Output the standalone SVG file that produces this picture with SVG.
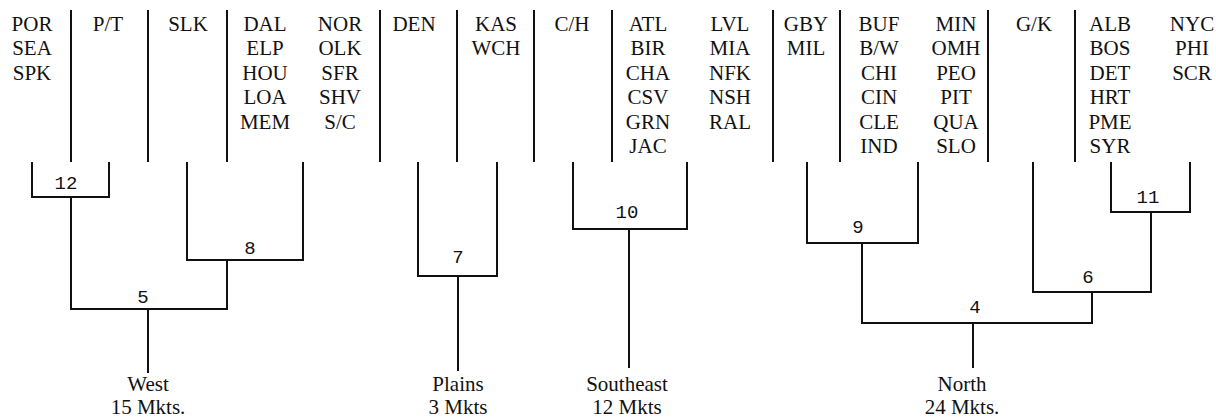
<svg xmlns="http://www.w3.org/2000/svg" width="1216" height="418" viewBox="0 0 1216 418">
<style>
.mk{font-family:'Liberation Serif','Times New Roman',serif;font-size:21px;fill:#111;text-anchor:middle}
.num{font-family:'Liberation Mono','Courier New',monospace;font-size:19px;fill:#111;text-anchor:middle}
.sep{stroke:#111;stroke-width:2;fill:none}
.ln{stroke:#111;stroke-width:2;fill:none;stroke-linecap:square}
</style>
<rect width="1216" height="418" fill="#fff"/>
<g id="separators" class="sep">
<line x1="71" y1="10" x2="71" y2="162"/>
<line x1="148" y1="10" x2="148" y2="162"/>
<line x1="227" y1="10" x2="227" y2="162"/>
<line x1="380" y1="10" x2="380" y2="162"/>
<line x1="457" y1="10" x2="457" y2="162"/>
<line x1="534" y1="10" x2="534" y2="162"/>
<line x1="612" y1="10" x2="612" y2="162"/>
<line x1="773" y1="10" x2="773" y2="162"/>
<line x1="840" y1="10" x2="840" y2="162"/>
<line x1="988" y1="10" x2="988" y2="162"/>
<line x1="1075" y1="10" x2="1075" y2="162"/>
</g>
<g id="col-west1" class="mk"><text x="32" y="30.5">POR</text><text x="32" y="55">SEA</text><text x="32" y="79.5">SPK</text></g>
<g id="col-pt" class="mk"><text x="108" y="30.5">P/T</text></g>
<g id="col-slk" class="mk"><text x="188" y="30.5">SLK</text></g>
<g id="col-dal" class="mk"><text x="265" y="30.5">DAL</text><text x="265" y="55">ELP</text><text x="265" y="79.5">HOU</text><text x="265" y="104">LOA</text><text x="265" y="128.5">MEM</text></g>
<g id="col-nor" class="mk"><text x="340" y="30.5">NOR</text><text x="340" y="55">OLK</text><text x="340" y="79.5">SFR</text><text x="340" y="104">SHV</text><text x="340" y="128.5">S/C</text></g>
<g id="col-den" class="mk"><text x="414" y="30.5">DEN</text></g>
<g id="col-kas" class="mk"><text x="496" y="30.5">KAS</text><text x="496" y="55">WCH</text></g>
<g id="col-ch" class="mk"><text x="572" y="30.5">C/H</text></g>
<g id="col-atl" class="mk"><text x="648" y="30.5">ATL</text><text x="648" y="55">BIR</text><text x="648" y="79.5">CHA</text><text x="648" y="104">CSV</text><text x="648" y="128.5">GRN</text><text x="648" y="153">JAC</text></g>
<g id="col-lvl" class="mk"><text x="730" y="30.5">LVL</text><text x="730" y="55">MIA</text><text x="730" y="79.5">NFK</text><text x="730" y="104">NSH</text><text x="730" y="128.5">RAL</text></g>
<g id="col-gby" class="mk"><text x="806" y="30.5">GBY</text><text x="806" y="55">MIL</text></g>
<g id="col-buf" class="mk"><text x="879" y="30.5">BUF</text><text x="879" y="55">B/W</text><text x="879" y="79.5">CHI</text><text x="879" y="104">CIN</text><text x="879" y="128.5">CLE</text><text x="879" y="153">IND</text></g>
<g id="col-min" class="mk"><text x="956" y="30.5">MIN</text><text x="956" y="55">OMH</text><text x="956" y="79.5">PEO</text><text x="956" y="104">PIT</text><text x="956" y="128.5">QUA</text><text x="956" y="153">SLO</text></g>
<g id="col-gk" class="mk"><text x="1034" y="30.5">G/K</text></g>
<g id="col-alb" class="mk"><text x="1110" y="30.5">ALB</text><text x="1110" y="55">BOS</text><text x="1110" y="79.5">DET</text><text x="1110" y="104">HRT</text><text x="1110" y="128.5">PME</text><text x="1110" y="153">SYR</text></g>
<g id="col-nyc" class="mk"><text x="1192" y="30.5">NYC</text><text x="1192" y="55">PHI</text><text x="1192" y="79.5">SCR</text></g>
<g id="connectors" class="ln">
<path d="M32 163V197H109V163M71 197V309"/>
<path d="M187 163V260H303V163M227 260V309"/>
<path d="M71 309H227M148 309V372"/>
<path d="M418 163V276H497V163M458 276V370"/>
<path d="M573 163V229H687V163M629 229V367"/>
<path d="M807 163V243H918V163M862 243V323"/>
<path d="M1111 163V212H1190V163M1151 212V292"/>
<path d="M1033 163V292H1151M1092 292V323"/>
<path d="M862 323H1092M973 323V367"/>
</g>
<g id="node-12" class="num"><text x="66" y="189">12</text></g>
<g id="node-8" class="num"><text x="250" y="254">8</text></g>
<g id="node-5" class="num"><text x="143" y="303">5</text></g>
<g id="node-7" class="num"><text x="458" y="263">7</text></g>
<g id="node-10" class="num"><text x="627" y="218">10</text></g>
<g id="node-9" class="num"><text x="858" y="233">9</text></g>
<g id="node-11" class="num"><text x="1148" y="203">11</text></g>
<g id="node-6" class="num"><text x="1088" y="283">6</text></g>
<g id="node-4" class="num"><text x="975" y="313">4</text></g>
<g id="region-west" class="mk"><text x="148" y="391">West</text><text x="148" y="414">15 Mkts.</text></g>
<g id="region-plains" class="mk"><text x="458" y="391">Plains</text><text x="458" y="414">3 Mkts</text></g>
<g id="region-southeast" class="mk"><text x="627" y="391">Southeast</text><text x="627" y="414">12 Mkts</text></g>
<g id="region-north" class="mk"><text x="962" y="391">North</text><text x="962" y="414">24 Mkts.</text></g>
</svg>
